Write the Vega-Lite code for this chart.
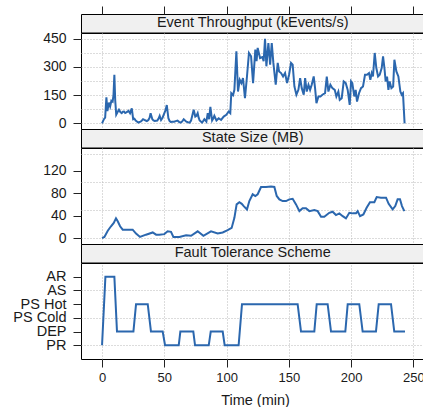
{
  "$schema": "https://vega.github.io/schema/vega-lite/v6.json",
  "padding": {"left": 12, "top": 5, "right": 0, "bottom": 0},
  "spacing": 0,
  "bounds": "flush",
  "config": {
    "font": "Liberation Sans",
    "view": {"stroke": "#000000", "strokeWidth": 1},
    "axis": {
      "domain": false,
      "tickColor": "#222222",
      "tickSize": 8,
      "labelColor": "#1a1a1a",
      "labelFont": "Liberation Sans",
      "titleFont": "Liberation Sans",
      "gridColor": "#b8b8b8",
      "gridDash": [1, 2],
      "gridWidth": 1
    }
  },
  "datasets": {
    "tp": [
      {"t": 0, "v": 0}, {"t": 1.5, "v": 22}, {"t": 2.5, "v": 30}, {"t": 3.5, "v": 138}, {"t": 4.3, "v": 65},
      {"t": 5.5, "v": 110}, {"t": 6.5, "v": 90}, {"t": 7.5, "v": 120}, {"t": 8.5, "v": 115}, {"t": 9.2, "v": 150},
      {"t": 9.9, "v": 258}, {"t": 10.6, "v": 120}, {"t": 11.4, "v": 46}, {"t": 12.5, "v": 60}, {"t": 13.6, "v": 72},
      {"t": 14.7, "v": 60}, {"t": 15.8, "v": 54}, {"t": 16.8, "v": 62}, {"t": 17.7, "v": 63}, {"t": 18.6, "v": 55},
      {"t": 19.5, "v": 58}, {"t": 20.4, "v": 62}, {"t": 21.2, "v": 67}, {"t": 22.5, "v": 54}, {"t": 23.9, "v": 80},
      {"t": 25, "v": 22}, {"t": 26, "v": 25}, {"t": 27, "v": 15}, {"t": 28, "v": 10}, {"t": 29.2, "v": 4},
      {"t": 30, "v": 7}, {"t": 31, "v": 9}, {"t": 32, "v": 15}, {"t": 32.9, "v": 22}, {"t": 34, "v": 18},
      {"t": 35, "v": 15}, {"t": 36, "v": 12}, {"t": 37.2, "v": 18}, {"t": 38.2, "v": 30}, {"t": 39, "v": 54},
      {"t": 40.4, "v": 22}, {"t": 41.3, "v": 16}, {"t": 42.3, "v": 13}, {"t": 43.4, "v": 14}, {"t": 44.4, "v": 15},
      {"t": 45.4, "v": 25}, {"t": 46.3, "v": 40}, {"t": 47.4, "v": 18}, {"t": 48.6, "v": 30}, {"t": 49.8, "v": 50},
      {"t": 51, "v": 70}, {"t": 52, "v": 97}, {"t": 53.3, "v": 27}, {"t": 54.3, "v": 12}, {"t": 55.2, "v": 7},
      {"t": 56.5, "v": 8}, {"t": 57.9, "v": 9}, {"t": 59.2, "v": 12}, {"t": 60.6, "v": 15}, {"t": 61.8, "v": 8},
      {"t": 63, "v": 4}, {"t": 64.3, "v": 10}, {"t": 65.6, "v": 22}, {"t": 67.7, "v": 9}, {"t": 69, "v": 6},
      {"t": 70.4, "v": 4}, {"t": 71.5, "v": 15}, {"t": 72.3, "v": 36}, {"t": 73.6, "v": 72}, {"t": 74.9, "v": 36},
      {"t": 75.8, "v": 40}, {"t": 76.8, "v": 54}, {"t": 77.6, "v": 30}, {"t": 78.4, "v": 15}, {"t": 80.3, "v": 4},
      {"t": 81.2, "v": 12}, {"t": 82.2, "v": 22}, {"t": 83.8, "v": 9}, {"t": 84.9, "v": 54}, {"t": 86, "v": 22},
      {"t": 87, "v": 87}, {"t": 88.4, "v": 15}, {"t": 89.3, "v": 25}, {"t": 90.2, "v": 40}, {"t": 91.9, "v": 15},
      {"t": 93.7, "v": 27}, {"t": 95.6, "v": 18}, {"t": 97.7, "v": 36}, {"t": 99.8, "v": 45}, {"t": 101.7, "v": 63},
      {"t": 103, "v": 54}, {"t": 103.8, "v": 160}, {"t": 105.2, "v": 150}, {"t": 106.3, "v": 178}, {"t": 107.9, "v": 383},
      {"t": 109.2, "v": 169}, {"t": 110.6, "v": 231}, {"t": 111.9, "v": 214}, {"t": 113.2, "v": 240}, {"t": 114.8, "v": 134},
      {"t": 116.4, "v": 249}, {"t": 118, "v": 374}, {"t": 119.7, "v": 356}, {"t": 121.3, "v": 214}, {"t": 123.1, "v": 392},
      {"t": 124.1, "v": 330}, {"t": 125, "v": 401}, {"t": 126.9, "v": 347}, {"t": 128.8, "v": 352}, {"t": 129.8, "v": 330},
      {"t": 130.9, "v": 449}, {"t": 132, "v": 303}, {"t": 133.6, "v": 427}, {"t": 135, "v": 312}, {"t": 136.3, "v": 427},
      {"t": 137.6, "v": 321}, {"t": 139.5, "v": 205}, {"t": 141.1, "v": 321}, {"t": 142.2, "v": 276}, {"t": 143.8, "v": 267},
      {"t": 145.4, "v": 249}, {"t": 147, "v": 267}, {"t": 148.6, "v": 214}, {"t": 150.2, "v": 258}, {"t": 151.8, "v": 321},
      {"t": 153.1, "v": 312}, {"t": 154.5, "v": 196}, {"t": 156.1, "v": 152}, {"t": 157.7, "v": 178}, {"t": 159.1, "v": 240},
      {"t": 160.4, "v": 187}, {"t": 162, "v": 152}, {"t": 163.1, "v": 240}, {"t": 164.4, "v": 169}, {"t": 165.8, "v": 205},
      {"t": 167.1, "v": 178}, {"t": 168.4, "v": 205}, {"t": 170, "v": 249}, {"t": 171.1, "v": 187}, {"t": 172.2, "v": 107},
      {"t": 173.8, "v": 143}, {"t": 175.4, "v": 143}, {"t": 177, "v": 152}, {"t": 179.1, "v": 160}, {"t": 180.5, "v": 249},
      {"t": 181.8, "v": 169}, {"t": 183.4, "v": 205}, {"t": 185, "v": 187}, {"t": 186.9, "v": 178}, {"t": 188.2, "v": 143},
      {"t": 189.8, "v": 169}, {"t": 190.9, "v": 125}, {"t": 192.5, "v": 134}, {"t": 194.1, "v": 223}, {"t": 195.7, "v": 214},
      {"t": 197.3, "v": 178}, {"t": 198.9, "v": 98}, {"t": 200, "v": 223}, {"t": 201, "v": 214}, {"t": 202.6, "v": 143},
      {"t": 203.7, "v": 178}, {"t": 204.8, "v": 116}, {"t": 206.4, "v": 160}, {"t": 208, "v": 187}, {"t": 209.6, "v": 196},
      {"t": 211.2, "v": 258}, {"t": 212.8, "v": 258}, {"t": 214.4, "v": 267}, {"t": 215.5, "v": 231}, {"t": 216.6, "v": 267},
      {"t": 217.6, "v": 249}, {"t": 219, "v": 374}, {"t": 220.3, "v": 294}, {"t": 221.7, "v": 249}, {"t": 223, "v": 258},
      {"t": 224.6, "v": 294}, {"t": 225.7, "v": 356}, {"t": 226.8, "v": 294}, {"t": 227.8, "v": 223}, {"t": 228.9, "v": 249},
      {"t": 230, "v": 178}, {"t": 231, "v": 223}, {"t": 232.4, "v": 187}, {"t": 233.8, "v": 196}, {"t": 234.8, "v": 338},
      {"t": 236.4, "v": 276}, {"t": 238, "v": 249}, {"t": 239.6, "v": 169}, {"t": 240.7, "v": 152}, {"t": 241.7, "v": 160},
      {"t": 243, "v": 0}
    ],
    "ss": [
      {"t": 0, "v": 0}, {"t": 1.9, "v": 2}, {"t": 4.6, "v": 13}, {"t": 7.2, "v": 21}, {"t": 9.4, "v": 27},
      {"t": 11.2, "v": 35}, {"t": 12.6, "v": 30}, {"t": 14.5, "v": 21}, {"t": 16.6, "v": 15}, {"t": 20.6, "v": 15},
      {"t": 24.6, "v": 15}, {"t": 27.3, "v": 8}, {"t": 30.5, "v": 2}, {"t": 35.3, "v": 6}, {"t": 40.7, "v": 10},
      {"t": 43.4, "v": 6}, {"t": 46, "v": 6}, {"t": 50, "v": 7}, {"t": 52.7, "v": 12}, {"t": 55.4, "v": 11},
      {"t": 57.3, "v": 2}, {"t": 62.1, "v": 2}, {"t": 67.5, "v": 5}, {"t": 71.5, "v": 4}, {"t": 76.8, "v": 12},
      {"t": 81.4, "v": 4}, {"t": 87.5, "v": 12}, {"t": 92.9, "v": 8}, {"t": 96.9, "v": 10}, {"t": 100.9, "v": 14},
      {"t": 104.1, "v": 18}, {"t": 106.3, "v": 36}, {"t": 108.1, "v": 60}, {"t": 110.3, "v": 64}, {"t": 112.2, "v": 61},
      {"t": 113.8, "v": 57}, {"t": 116.4, "v": 51}, {"t": 118.3, "v": 66}, {"t": 121, "v": 78}, {"t": 123.1, "v": 75},
      {"t": 125, "v": 78}, {"t": 127.7, "v": 91}, {"t": 131.7, "v": 91}, {"t": 135.7, "v": 92}, {"t": 138.4, "v": 91},
      {"t": 140.3, "v": 75}, {"t": 142.4, "v": 69}, {"t": 145.1, "v": 66}, {"t": 147.8, "v": 66}, {"t": 150.4, "v": 69},
      {"t": 153.1, "v": 70}, {"t": 155.8, "v": 60}, {"t": 158.5, "v": 48}, {"t": 161.1, "v": 53}, {"t": 163.8, "v": 53},
      {"t": 166.5, "v": 48}, {"t": 170.5, "v": 50}, {"t": 173.2, "v": 48}, {"t": 175.9, "v": 38}, {"t": 178.5, "v": 38},
      {"t": 182.5, "v": 45}, {"t": 185.2, "v": 47}, {"t": 187.9, "v": 41}, {"t": 190.6, "v": 44}, {"t": 193.3, "v": 39},
      {"t": 195.9, "v": 35}, {"t": 198.6, "v": 45}, {"t": 201.3, "v": 44}, {"t": 204, "v": 44}, {"t": 205.3, "v": 48},
      {"t": 207.2, "v": 39}, {"t": 209.9, "v": 42}, {"t": 212.5, "v": 54}, {"t": 215.2, "v": 64}, {"t": 218.7, "v": 64},
      {"t": 220.6, "v": 73}, {"t": 224, "v": 72}, {"t": 228.1, "v": 72}, {"t": 230.2, "v": 61}, {"t": 233.4, "v": 51},
      {"t": 235.5, "v": 57}, {"t": 237.4, "v": 69}, {"t": 239.3, "v": 69}, {"t": 240.9, "v": 57}, {"t": 242.8, "v": 48}
    ],
    "ft": [
      {"t": 0, "s": "PR"}, {"t": 2.7, "s": "AR"}, {"t": 9.9, "s": "AR"}, {"t": 12, "s": "DEP"}, {"t": 25.2, "s": "DEP"},
      {"t": 27.3, "s": "PS Hot"}, {"t": 36.7, "s": "PS Hot"}, {"t": 39.3, "s": "DEP"}, {"t": 48.7, "s": "DEP"}, {"t": 50.6, "s": "PR"},
      {"t": 61.6, "s": "PR"}, {"t": 62.9, "s": "DEP"}, {"t": 73.3, "s": "DEP"}, {"t": 74.7, "s": "PR"}, {"t": 85.7, "s": "PR"},
      {"t": 87.3, "s": "DEP"}, {"t": 96.9, "s": "DEP"}, {"t": 98.5, "s": "PR"}, {"t": 109.7, "s": "PR"}, {"t": 112.4, "s": "PS Hot"},
      {"t": 157.1, "s": "PS Hot"}, {"t": 159.8, "s": "DEP"}, {"t": 170.5, "s": "DEP"}, {"t": 172.4, "s": "PS Hot"}, {"t": 181.2, "s": "PS Hot"},
      {"t": 183.9, "s": "DEP"}, {"t": 195.4, "s": "DEP"}, {"t": 197.3, "s": "PS Hot"}, {"t": 206.6, "s": "PS Hot"}, {"t": 209.3, "s": "DEP"},
      {"t": 220, "s": "DEP"}, {"t": 222.2, "s": "PS Hot"}, {"t": 232.1, "s": "PS Hot"}, {"t": 234.7, "s": "DEP"}, {"t": 243.3, "s": "DEP"}
    ]
  },
  "vconcat": [
    {
      "width": 348, "height": 18.5,
      "view": {"fill": "#f0f0f0", "stroke": "#000000"},
      "data": {"values": [{"label": "Event Throughput (kEvents/s)"}]},
      "mark": {"type": "text", "fontSize": 14.5, "baseline": "middle", "color": "#1a1a1a"},
      "encoding": {
        "text": {"field": "label"},
        "x": {"datum": 121, "type": "quantitative",
          "scale": {"domain": [-16.9, 262.6], "nice": false, "zero": false},
          "axis": {"orient": "top", "values": [0, 50, 100, 150, 200, 250], "labels": false, "grid": false, "title": null}}
      }
    },
    {
      "width": 348, "height": 96,
      "data": {"name": "tp"},
      "mark": {"type": "line", "color": "#2b67ae", "strokeWidth": 2},
      "encoding": {
        "x": {"field": "t", "type": "quantitative",
          "scale": {"domain": [-16.9, 262.6], "nice": false, "zero": false},
          "axis": {"values": [0, 50, 100, 150, 200, 250], "labels": false, "ticks": false, "grid": true, "title": null}},
        "y": {"field": "v", "type": "quantitative",
          "scale": {"domain": [-30, 480], "nice": false, "zero": false},
          "axis": {"values": [0, 75, 150, 225, 300, 375, 450], "title": null, "grid": true,
            "labelFontSize": 14, "labelPadding": 7,
            "labelExpr": "datum.value % 150 == 0 ? datum.label : ''",
            "tickOpacity": {"condition": {"test": "datum.value % 150 != 0", "value": 0}, "value": 1}}}
      }
    },
    {
      "width": 348, "height": 18.5,
      "view": {"fill": "#f0f0f0", "stroke": "#000000"},
      "data": {"values": [{"label": "State Size (MB)"}]},
      "mark": {"type": "text", "fontSize": 14.5, "baseline": "middle", "color": "#1a1a1a"},
      "encoding": {
        "text": {"field": "label"},
        "x": {"datum": 121, "type": "quantitative",
          "scale": {"domain": [-16.9, 262.6], "nice": false, "zero": false}, "axis": null}
      }
    },
    {
      "width": 348, "height": 96,
      "data": {"name": "ss"},
      "mark": {"type": "line", "color": "#2b67ae", "strokeWidth": 2},
      "encoding": {
        "x": {"field": "t", "type": "quantitative",
          "scale": {"domain": [-16.9, 262.6], "nice": false, "zero": false},
          "axis": {"values": [0, 50, 100, 150, 200, 250], "labels": false, "ticks": false, "grid": true, "title": null}},
        "y": {"field": "v", "type": "quantitative",
          "scale": {"domain": [-10.6, 160.5], "nice": false, "zero": false},
          "axis": {"values": [0, 40, 50, 80, 100, 120, 150], "title": null, "grid": true,
            "labelFontSize": 14, "labelPadding": 7,
            "labelExpr": "datum.value % 40 == 0 ? datum.label : ''",
            "tickOpacity": {"condition": {"test": "datum.value % 40 != 0", "value": 0}, "value": 1},
            "gridOpacity": {"condition": {"test": "datum.value % 50 != 0", "value": 0}, "value": 1}}}
      }
    },
    {
      "width": 348, "height": 18.5,
      "view": {"fill": "#f0f0f0", "stroke": "#000000"},
      "data": {"values": [{"label": "Fault Tolerance Scheme"}]},
      "mark": {"type": "text", "fontSize": 14.5, "baseline": "middle", "color": "#1a1a1a"},
      "encoding": {
        "text": {"field": "label"},
        "x": {"datum": 121, "type": "quantitative",
          "scale": {"domain": [-16.9, 262.6], "nice": false, "zero": false}, "axis": null}
      }
    },
    {
      "width": 348, "height": 96,
      "data": {"name": "ft"},
      "mark": {"type": "line", "color": "#2b67ae", "strokeWidth": 2},
      "encoding": {
        "x": {"field": "t", "type": "quantitative", "title": "Time (min)",
          "scale": {"domain": [-16.9, 262.6], "nice": false, "zero": false},
          "axis": {"values": [0, 50, 100, 150, 200, 250], "grid": true, "labelFontSize": 13, "labelPadding": 4,
            "titleFontSize": 14.5, "titleFontWeight": "normal", "titleColor": "#1a1a1a", "titlePadding": 9}},
        "y": {"field": "s", "type": "nominal",
          "scale": {"type": "point", "domain": ["AR", "AS", "PS Hot", "PS Cold", "DEP", "PR"], "padding": 1.5},
          "axis": {"title": null, "grid": true, "labelFontSize": 14.5, "labelPadding": 7,
            "gridOpacity": {"condition": {"test": "indexof(['PR', 'PS Cold', 'AS'], datum.value) >= 0", "value": 1}, "value": 0}}},
        "order": {"field": "t", "type": "quantitative"}
      }
    }
  ]
}
